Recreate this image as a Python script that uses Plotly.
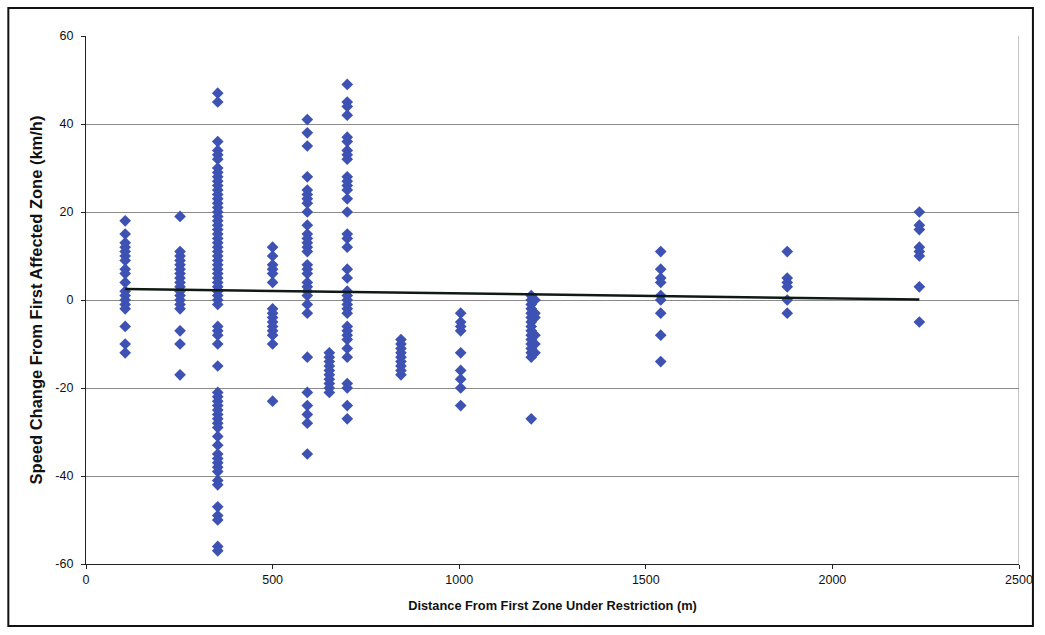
import plotly.graph_objects as go

# Observed speed changes (km/h) grouped by distance from first restricted zone (m)
d105 = [18, 15, 13, 12, 11, 10, 9, 7, 6, 4, 2, 1, 0, -1, -2, -6, -10, -12]
d252 = [19, 11, 10, 9, 8, 7, 6, 5, 4, 3, 2, 1, 0, -1, -2, -7, -10, -17]
d353 = [47, 45, 36, 34, 33, 32, 30, 29, 28, 27, 26, 25, 24, 23, 22, 21, 20, 19,
        18, 17, 16, 15, 14, 13, 12, 11, 10, 9, 8, 7, 6, 5, 4, 3, 2, 1, 0, -1,
        -6, -7, -8, -10, -15, -21, -22, -23, -24, -25, -26, -27, -28, -29, -31,
        -33, -35, -36, -37, -38, -39, -41, -42, -47, -49, -50, -56, -57]
d500 = [12, 10, 8, 7, 6, 4, -2, -3, -4, -5, -6, -7, -8, -10, -23]
d593 = [41, 38, 35, 28, 25, 24, 23, 22, 20, 17, 15, 14, 13, 12, 11, 8, 7, 6,
        4, 3, 2, 1, -1, -3, -13, -21, -24, -26, -28, -35]
d652 = [-12, -13, -14, -15, -16, -17, -18, -19, -20, -21]
d700 = [49, 45, 44, 42, 37, 36, 34, 33, 32, 28, 27, 26, 25, 23, 20, 15, 14, 12,
        7, 5, 2, 1, 0, -1, -2, -3, -6, -7, -8, -9, -11, -13, -19, -20, -24, -27]
d844 = [-9, -10, -11, -12, -13, -14, -15, -16, -17]
d1004 = [-3, -5, -6, -7, -12, -16, -18, -20, -24]
d1193 = [1, 0, -1, -2, -3, -4, -5, -6, -7, -8, -9, -10, -11, -12, -13, -27]
d1203 = [0, -3, -4, -8, -10, -12]
d1540 = [11, 7, 5, 4, 1, 0, -3, -8, -14]
d1879 = [11, 5, 4, 3, 0, -3]
d2233 = [20, 17, 16, 12, 11, 10, 3, -5]

groups = {105: d105, 252: d252, 353: d353, 500: d500, 593: d593, 652: d652,
          700: d700, 844: d844, 1004: d1004, 1193: d1193, 1203: d1203,
          1540: d1540, 1879: d1879, 2233: d2233}

# Linear trend line (end points)
trend_x = [105, 2233]
trend_y = [2.5, 0.1]

# Axis ticks
x_ticks = [0, 500, 1000, 1500, 2000, 2500]
y_ticks = [-60, -40, -20, 0, 20, 40, 60]

xs, ys = [], []
for dist, vals in groups.items():
    xs += [dist] * len(vals)
    ys += vals

fig = go.Figure()
fig.add_trace(go.Scatter(
    x=xs, y=ys, mode="markers",
    marker=dict(symbol="diamond", size=9, color="#3D52B3",
                line=dict(width=0)),
    showlegend=False, hoverinfo="x+y"))
fig.add_trace(go.Scatter(
    x=trend_x, y=trend_y, mode="lines", line=dict(color="#101a14", width=2.5),
    showlegend=False, hoverinfo="skip"))

font = "Liberation Sans, Arial, sans-serif"
fig.update_layout(
    width=1045, height=635,
    margin=dict(l=86, r=22, t=36, b=71),
    paper_bgcolor="white", plot_bgcolor="white",
    font=dict(family=font, size=12.5, color="#111"),
    xaxis=dict(range=[0, 2500], tickvals=x_ticks,
               ticktext=[str(v) for v in x_ticks], showgrid=False,
               zeroline=False, showline=True, linecolor="#222", linewidth=1.2,
               ticks="outside", ticklen=4, tickcolor="#222",
               title=dict(text="<b>Distance From First Zone Under Restriction (m)</b>",
                          font=dict(size=12.8), standoff=14)),
    yaxis=dict(range=[-60, 60], tickvals=y_ticks,
               ticktext=[str(v) for v in y_ticks], showgrid=True,
               gridcolor="#8a8a8a", gridwidth=1, zeroline=False,
               showline=True, linecolor="#222", linewidth=1.2,
               ticks="outside", ticklen=4, tickcolor="#222",
               ticklabelstandoff=5,
               title=dict(text="<b>Speed Change From First Affected Zone (km/h)</b>",
                          font=dict(size=16.5), standoff=8)),
    shapes=[
        # plot-area frame on the right
        dict(type="line", xref="x", yref="y", x0=2500, x1=2500, y0=-60, y1=60,
             line=dict(color="#8a8a8a", width=1), layer="below"),
        # outer chart border
        dict(type="rect", xref="paper", yref="paper",
             x0=-78 / 937, x1=1 + 14 / 937, y0=-62 / 528, y1=1 + 28 / 528,
             line=dict(color="#111", width=2)),
    ],
)

fig.write_html("out.html")
